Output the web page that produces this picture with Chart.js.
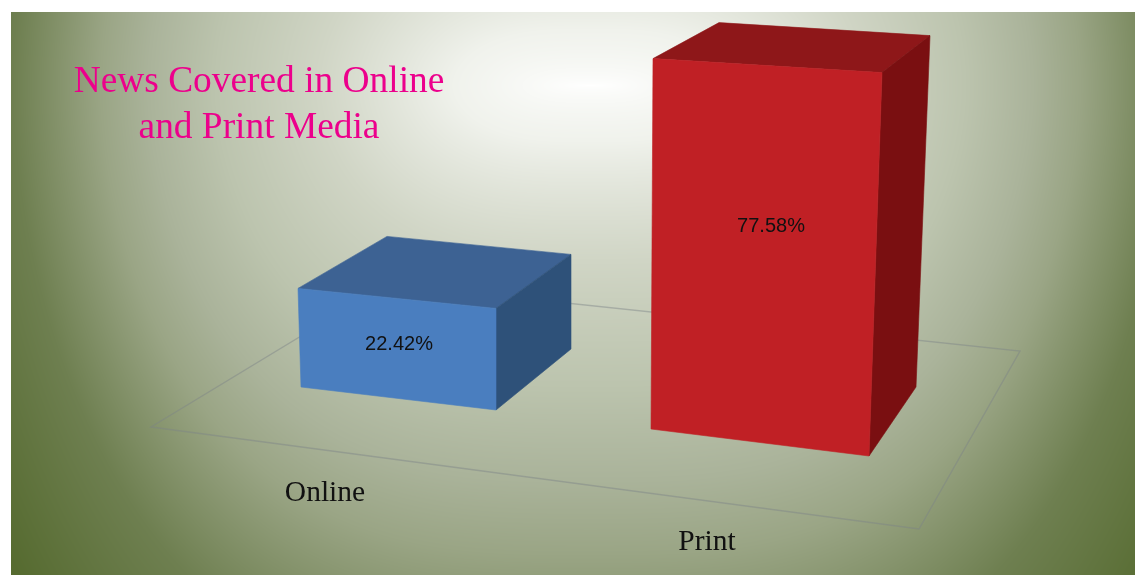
<!DOCTYPE html>
<html>
<head>
<meta charset="utf-8">
<style>html,body{margin:0;padding:0;background:#fff;overflow:hidden}canvas{display:block}</style>
<script src="https://cdn.jsdelivr.net/npm/chart.js@4"></script>
</head>
<body>
<canvas id="c" width="1135" height="575"></canvas>
<script>
const categories = ['Online', 'Print'];
const shares = [22.42, 77.58];
const titleLines = ['News Covered in Online', 'and Print Media'];

const frontColors = ['#4a7ebf', '#c02025'];
const topColors = ['#3d6293', '#8e1719'];
const sideColors = ['#2e5179', '#7a0f11'];

// Perspective offsets (px) added to each bar's own rectangle, from Chart.js geometry.
const skews = [
  { tl:[12,-34], tr:[-12,-14], br:[-12,-20], bl:[15,-43], btl:[101,-86], btr:[63,-68], bbr:[63,-81] },
  { tl:[-3,1],   tr:[4,15],    br:[-9,26],   bl:[-5,-1],  btl:[63,-35],  btr:[52,-22], bbr:[38,-43] }
];
const floorOffsets = [[-61,-3],[707,99],[68,-79],[-565,-146]];
const labelNudges = [[2,-26],[4,-12]];

// Backdrop palette: position along the glow -> colour
const glowStops = [
  [0, [255,255,255]], [0.2, [240,242,236]], [0.4, [208,213,197]], [0.55, [188,196,174]],
  [0.65, [170,179,154]], [0.72, [154,165,133]], [0.85, [110,127,80]], [1, [86,107,48]]
];

function glowColor(t) {
  for (let i = 1; i < glowStops.length; i++) {
    if (t <= glowStops[i][0]) {
      const a = glowStops[i - 1], b = glowStops[i], k = (t - a[0]) / (b[0] - a[0]);
      return a[1].map((v, c) => v + (b[1][c] - v) * k);
    }
  }
  return glowStops[glowStops.length - 1][1];
}
function buildBackdrop(w, h, ox, oy) {
  const cv = document.createElement('canvas');
  cv.width = w; cv.height = h;
  const c = cv.getContext('2d'), img = c.createImageData(w, h), d = img.data;
  for (let y = 0; y < h; y++) {
    const ty = 0.74 * Math.pow(Math.abs(y + oy - 85) / 490, 0.6);
    for (let x = 0; x < w; x++) {
      const tx = Math.abs(x + ox - 590) / 680;
      const t = Math.cbrt(tx * tx * tx + ty * ty * ty);
      const col = glowColor(Math.min(t, 1));
      const p = (y * w + x) * 4;
      d[p] = col[0]; d[p + 1] = col[1]; d[p + 2] = col[2]; d[p + 3] = 255;
    }
  }
  c.putImageData(img, 0, 0);
  return cv;
}

function quad(ctx, pts, fill) {
  ctx.beginPath();
  ctx.moveTo(pts[0][0], pts[0][1]);
  for (let i = 1; i < pts.length; i++) ctx.lineTo(pts[i][0], pts[i][1]);
  ctx.closePath();
  ctx.fillStyle = fill;
  ctx.fill();
  ctx.strokeStyle = fill;
  ctx.lineWidth = 0.6;
  ctx.stroke();
}
Chart.BarElement.prototype.draw = function (ctx) {
  const i = this.$context.dataIndex;
  const s = skews[i];
  const L = this.x - this.width / 2, R = this.x + this.width / 2;
  const T = this.y, B = this.base;
  const p = (x, y, o) => [x + o[0], y + o[1]];
  const tl = p(L, T, s.tl), tr = p(R, T, s.tr), br = p(R, B, s.br), bl = p(L, B, s.bl);
  const btl = p(L, T, s.btl), btr = p(R, T, s.btr), bbr = p(R, B, s.bbr);
  ctx.save();
  quad(ctx, [tl, btl, btr, tr], topColors[i]);
  quad(ctx, [tr, btr, bbr, br], sideColors[i]);
  quad(ctx, [tl, tr, br, bl], this.options.backgroundColor);
  ctx.restore();
};

let backdrop = null;
const scene = {
  id: 'scene',
  beforeDraw(chart) {
    const ctx = chart.ctx, W = chart.width, H = chart.height;
    if (!backdrop) backdrop = buildBackdrop(W - 11, H - 12, 11, 12);
    ctx.save();
    ctx.fillStyle = '#fff';
    ctx.fillRect(0, 0, W, H);
    ctx.drawImage(backdrop, 11, 12);
    ctx.restore();
  },
  beforeDatasetsDraw(chart) {
    const ctx = chart.ctx, a = chart.chartArea, o = floorOffsets;
    ctx.save();
    ctx.beginPath();
    ctx.moveTo(a.left + o[0][0], a.bottom + o[0][1]);
    ctx.lineTo(a.left + o[1][0], a.bottom + o[1][1]);
    ctx.lineTo(a.right + o[2][0], a.bottom + o[2][1]);
    ctx.lineTo(a.right + o[3][0], a.bottom + o[3][1]);
    ctx.closePath();
    ctx.strokeStyle = 'rgba(125,130,135,0.45)';
    ctx.lineWidth = 1.4;
    ctx.stroke();
    ctx.restore();
  },
  afterDatasetsDraw(chart) {
    const ctx = chart.ctx, meta = chart.getDatasetMeta(0), x = chart.scales.x, a = chart.chartArea;
    ctx.save();
    ctx.textBaseline = 'alphabetic';
    ctx.textAlign = 'center';
    ctx.fillStyle = '#111';
    ctx.font = '20px "Liberation Sans", Arial, sans-serif';
    shares.forEach((v, i) => {
      const el = meta.data[i];
      ctx.fillText(v.toFixed(2) + '%', el.x + labelNudges[i][0], (el.y + el.base) / 2 + labelNudges[i][1]);
    });
    ctx.font = '29.5px "Liberation Serif", "Times New Roman", serif';
    ctx.fillText(categories[0], x.getPixelForTick(0) - 72, a.bottom + 71);
    ctx.fillText(categories[1], x.getPixelForTick(1) - 60, a.bottom + 120);
    ctx.fillStyle = '#ec008c';
    ctx.font = '37.4px "Liberation Serif", "Times New Roman", serif';
    ctx.fillText(titleLines[0], 259, 92);
    ctx.fillText(titleLines[1], 259, 138);
    ctx.restore();
  }
};

new Chart(document.getElementById('c'), {
  type: 'bar',
  data: {
    labels: categories,
    datasets: [{ data: shares, backgroundColor: frontColors, barPercentage: 0.6, categoryPercentage: 1, clip: false }]
  },
  options: {
    responsive: false,
    animation: false,
    layout: { padding: { left: 212, right: 183, top: 46, bottom: 145 } },
    plugins: { legend: { display: false }, tooltip: { enabled: false }, title: { display: false } },
    scales: {
      x: { display: false },
      y: { display: false, min: 0, max: 80 }
    }
  },
  plugins: [scene]
});
</script>
</body>
</html>
